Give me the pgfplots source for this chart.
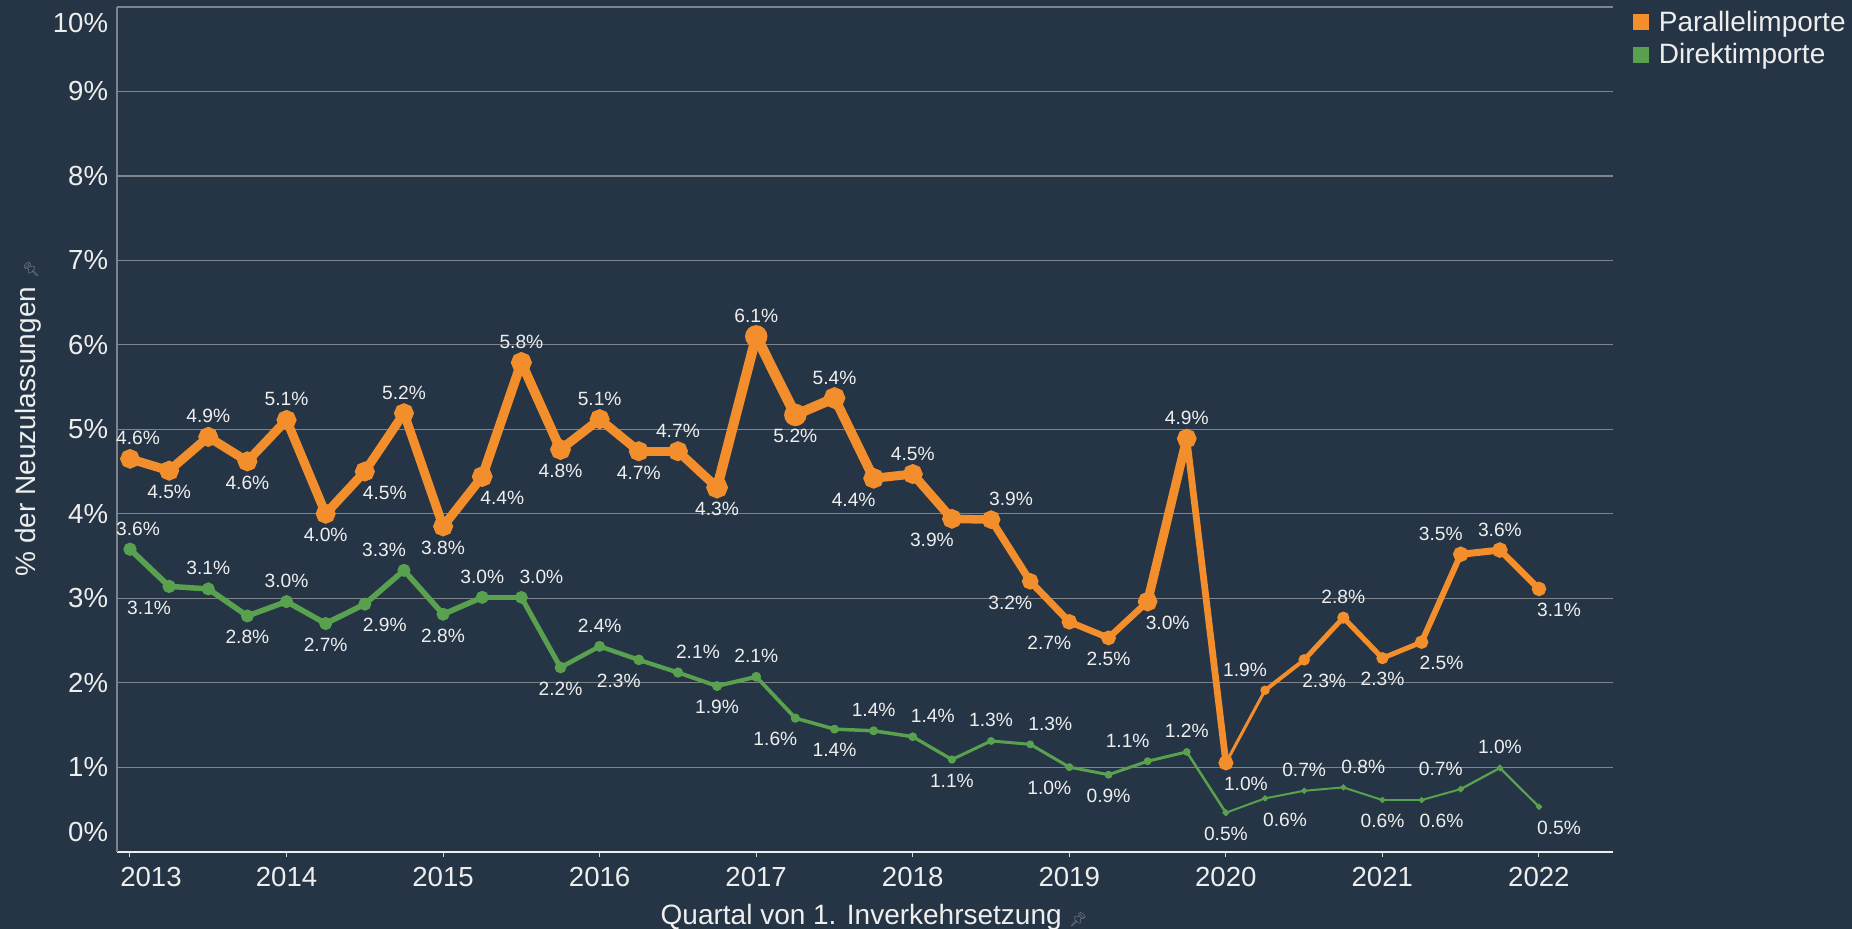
\documentclass[border=0pt]{standalone}
\usepackage{pgfplots}
\pgfplotsset{compat=1.18}
\usepackage{pgfplotstable}
\usepackage{fontspec}
\setmainfont{Liberation Sans}
\newfontfamily\emojifont{Noto Emoji}

\definecolor{bgc}{RGB}{37,53,69}
\definecolor{orc}{RGB}{242,142,43}
\definecolor{grc}{RGB}{89,161,79}
\definecolor{gridc}{RGB}{125,132,140}
\definecolor{txtc}{RGB}{238,238,238}
\definecolor{pinc}{RGB}{120,130,140}

% label above (La) or below (Lb) the point, shifted #2 pt sideways
\protected\def\La#1#2{\raisebox{7pt}[0pt][0pt]{\hbox to 0pt{\hss\kern#2pt\kern#2pt #1\%\hss}}}
\protected\def\Lb#1#2{\raisebox{-13.9pt}[0pt][0pt]{\hbox to 0pt{\hss\kern#2pt\kern#2pt #1\%\hss}}}

\pgfplotstableread{
x y w lab
2013.00 4.65 9 \La{4.6}{4}
2013.25 4.51 9 \Lb{4.5}{0}
2013.50 4.91 9 \La{4.9}{0}
2013.75 4.62 9 \Lb{4.6}{0}
2014.00 5.11 9 \La{5.1}{0}
2014.25 4.00 9 \Lb{4.0}{0}
2014.50 4.50 9 \Lb{4.5}{10}
2014.75 5.19 9 \La{5.2}{0}
2015.00 3.85 9 \Lb{3.8}{0}
2015.25 4.44 9 \Lb{4.4}{10}
2015.50 5.79 10 \La{5.8}{0}
2015.75 4.76 9 \Lb{4.8}{0}
2016.00 5.12 9 \La{5.1}{0}
2016.25 4.74 9 \Lb{4.7}{0}
2016.50 4.74 9 \La{4.7}{0}
2016.75 4.31 9 \Lb{4.3}{0}
2017.00 6.10 11 \La{6.1}{0}
2017.25 5.17 10 \Lb{5.2}{0}
2017.50 5.37 10 \La{5.4}{0}
2017.75 4.42 9 \Lb{4.4}{-10}
2018.00 4.47 9 \La{4.5}{0}
2018.25 3.94 9 \Lb{3.9}{-10}
2018.50 3.93 8 \La{3.9}{10}
2018.75 3.20 7 \Lb{3.2}{-10}
2019.00 2.72 7 \Lb{2.7}{-10}
2019.25 2.53 6 \Lb{2.5}{0}
2019.50 2.96 7 \Lb{3.0}{10}
2019.75 4.89 11 \La{4.9}{0}
2020.00 1.05 2.5 \Lb{1.0}{10}
2020.25 1.91 3.5 \La{1.9}{-10}
2020.50 2.27 4.5 \Lb{2.3}{10}
2020.75 2.77 5.5 \La{2.8}{0}
2021.00 2.29 5 \Lb{2.3}{0}
2021.25 2.48 5 \Lb{2.5}{10}
2021.50 3.52 7 \La{3.5}{-10}
2021.75 3.57 7 \La{3.6}{0}
2022.00 3.11 6 \Lb{3.1}{10}
}\orangetab

\pgfplotstableread{
x y w lab
2013.00 3.58 6 \La{3.6}{4}
2013.25 3.14 5.5 \Lb{3.1}{-10}
2013.50 3.11 5.5 \La{3.1}{0}
2013.75 2.79 5.5 \Lb{2.8}{0}
2014.00 2.96 5.5 \La{3.0}{0}
2014.25 2.70 5.5 \Lb{2.7}{0}
2014.50 2.93 5.5 \Lb{2.9}{10}
2014.75 3.33 5.5 \La{3.3}{-10}
2015.00 2.81 5.5 \Lb{2.8}{0}
2015.25 3.01 5.5 \La{3.0}{0}
2015.50 3.01 5.5 \La{3.0}{10}
2015.75 2.18 4.5 \Lb{2.2}{0}
2016.00 2.43 4.5 \La{2.4}{0}
2016.25 2.27 4.5 \Lb{2.3}{-10}
2016.50 2.12 4 \La{2.1}{10}
2016.75 1.96 4 \Lb{1.9}{0}
2017.00 2.07 4 \La{2.1}{0}
2017.25 1.58 3.5 \Lb{1.6}{-10}
2017.50 1.45 3.5 \Lb{1.4}{0}
2017.75 1.43 3.5 \La{1.4}{0}
2018.00 1.36 3.5 \La{1.4}{10}
2018.25 1.09 3 \Lb{1.1}{0}
2018.50 1.31 3 \La{1.3}{0}
2018.75 1.27 3 \La{1.3}{10}
2019.00 1.00 3 \Lb{1.0}{-10}
2019.25 0.91 3 \Lb{0.9}{0}
2019.50 1.07 3 \La{1.1}{-10}
2019.75 1.18 3 \La{1.2}{0}
2020.00 0.46 2 \Lb{0.5}{0}
2020.25 0.63 2 \Lb{0.6}{10}
2020.50 0.72 2 \La{0.7}{0}
2020.75 0.76 2 \La{0.8}{10}
2021.00 0.61 2 \Lb{0.6}{0}
2021.25 0.61 2 \Lb{0.6}{10}
2021.50 0.74 2 \La{0.7}{-10}
2021.75 0.99 2.5 \La{1.0}{0}
2022.00 0.53 2 \Lb{0.5}{10}
}\greentab

\pgfplotsset{
  labelplot/.style={draw=none, mark=none, forget plot,
    nodes near coords={\pgfplotspointmeta}, point meta=explicit symbolic,
    every node near coord/.append style={anchor=base, inner sep=0pt,
      font=\fontsize{9.6}{10}\selectfont, text=txtc}},
}

\begin{document}
\begin{tikzpicture}
\fill[bgc] (-58.5pt,-38.7pt) rectangle (867.5pt,425.8pt);
\begin{axis}[
  at={(0,0)}, anchor=south west,
  scale only axis, width=748pt, height=422.3pt,
  xmin=2012.917, xmax=2022.4726, ymin=0, ymax=10,
  axis x line*=bottom, axis y line*=left,
  x axis line style={draw=txtc, line width=1pt},
  y axis line style={draw=gridc, line width=0.6pt},
  ymajorgrids, grid style={draw=gridc, line width=0.6pt},
  ytick={0,1,...,10},
  yticklabels={{\raisebox{9.8pt}[\height][\depth]{0\%}},{1\%},{2\%},{3\%},{4\%},{5\%},{6\%},{7\%},{8\%},{9\%},{\raisebox{-8pt}[\height][\depth]{10\%}}},
  xtick={2013,2014,...,2022},
  xticklabels={{\kern21pt 2013},2014,2015,2016,2017,2018,2019,2020,2021,2022},
  minor x tick num=3,
  tick align=outside,
  ytick style={draw=none},
  xtick style={draw=txtc!80!gray, line width=0.5pt},
  major tick length=2.5pt, minor tick length=2pt,
  tick label style={font=\fontsize{13.8}{15}\selectfont, text=txtc, inner sep=0pt},
  yticklabel style={xshift=-1.75pt},
  xticklabel style={yshift=-5pt},
  xlabel={Quartal von 1. Inverkehrsetzung {\color{pinc}\emojifont\fontsize{7}{7}\selectfont 📌}},
  ylabel={\% der Neuzulassungen {\color{pinc}\emojifont\fontsize{7}{7}\selectfont 📌}},
  every axis x label/.style={at={(rel axis cs:0.506,0)}, yshift=-36.3pt, anchor=base,
    font=\fontsize{14}{16}\selectfont, text=txtc, inner sep=0pt},
  every axis y label/.style={at={(rel axis cs:-0.059,0.5125)}, rotate=90, anchor=center,
    font=\fontsize{14}{16}\selectfont, text=txtc, inner sep=0pt},
  clip=false,
  legend style={at={(1.0134,1.0)}, anchor=north west, draw=none, fill=none,
    text=txtc, font=\fontsize{14}{16}\selectfont, inner sep=0pt, row sep=1.2pt,
    nodes={inner sep=1.7pt},
    /tikz/every odd column/.append style={column sep=3pt}},
  legend cell align=left,
  legend image code/.code={\fill[#1] (0pt,-4pt) rectangle (8pt,4pt);},
]
\addlegendimage{draw=none, fill=orc}
\addlegendentry{Parallelimporte}
\addlegendimage{draw=none, fill=grc}
\addlegendentry{Direktimporte}

% green line segments (with dots at the ends)
\pgfplotsinvokeforeach{0,...,35}{%
  \pgfplotstablegetelem{#1}{w}\of\greentab \let\wa\pgfplotsretval
  \pgfmathtruncatemacro\nx{#1+1}%
  \pgfplotstablegetelem{\nx}{w}\of\greentab \let\wb\pgfplotsretval
  \pgfmathsetmacro\sw{(\wa+\wb)/4}%
  \pgfmathsetmacro\ms{\sw/2+0.35}%
  \edef\doplot{\noexpand\addplot[draw=grc, line width=\sw pt, line cap=round, mark=*, mark size=\ms pt,
    mark options={draw=none, fill=grc}, forget plot,
    x filter/.expression={abs(\noexpand\coordindex-#1-0.5)<0.6 ? x : nan}] table[x=x,y=y] {\noexpand\greentab};}%
  \doplot
}

% orange line segments
\pgfplotsinvokeforeach{0,...,35}{%
  \pgfplotstablegetelem{#1}{w}\of\orangetab \let\wa\pgfplotsretval
  \pgfmathtruncatemacro\nx{#1+1}%
  \pgfplotstablegetelem{\nx}{w}\of\orangetab \let\wb\pgfplotsretval
  \pgfmathsetmacro\sw{(\wa+\wb)/4}%
  \pgfmathsetmacro\ms{\sw/2+0.3}%
  \edef\doplot{\noexpand\addplot[draw=orc, line width=\sw pt, line cap=round, mark=*, mark size=\ms pt,
    mark options={draw=none, fill=orc}, forget plot,
    x filter/.expression={abs(\noexpand\coordindex-#1-0.5)<0.6 ? x : nan}] table[x=x,y=y] {\noexpand\orangetab};}%
  \doplot
}

\addplot[labelplot] table[x=x,y=y,meta=lab] {\greentab};
\addplot[labelplot] table[x=x,y=y,meta=lab] {\orangetab};
\end{axis}
\pgfresetboundingbox
\path[use as bounding box] (-58.5pt,-38.7pt) rectangle (867.5pt,425.8pt);
\end{tikzpicture}
\end{document}
